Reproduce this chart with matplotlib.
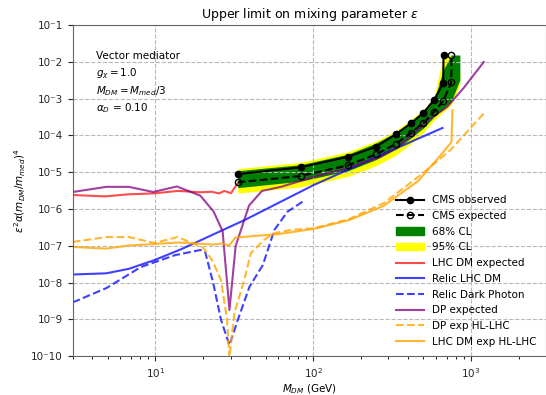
import matplotlib
matplotlib.use("Agg")
import matplotlib.pyplot as plt
from matplotlib.lines import Line2D
from matplotlib.patches import Patch

# CMS limits (M_DM = M_med / 3)
cms_obs_mass = [33.3, 83.3, 166.7, 250.0, 333.3, 416.7, 500.0, 583.3, 666.7, 670.0]
cms_obs = [8.9e-6, 1.36e-5, 2.64e-5, 4.93e-5, 1.07e-4, 2.13e-4, 4.14e-4, 9.2e-4, 2.6e-3, 1.53e-2]
cms_exp_mass = [33.3, 83.3, 166.7, 250.0, 333.3, 416.7, 500.0, 583.3, 666.7, 750.0, 752.0]
cms_exp = [5.3e-6, 7.9e-6, 1.54e-5, 3.06e-5, 5.83e-5, 1.18e-4, 2.21e-4, 4.4e-4, 8.6e-4, 2.77e-3, 1.53e-2]

band_mass = [33.3, 83.3, 166.7, 250.0, 333.3, 416.7, 500.0, 583.3, 666.7, 750.0, 850.0]
band68_lo = [3.8e-6, 5.7e-6, 1.1e-5, 2.2e-5, 4.2e-5, 8.5e-5, 1.6e-4, 3.2e-4, 5.2e-4, 8.5e-4, 3.2e-3]
band68_hi = [1.1e-5, 1.6e-5, 3.1e-5, 6.2e-5, 1.2e-4, 2.4e-4, 4.5e-4, 9.0e-4, 6.0e-3, 1.53e-2, 1.53e-2]
band95_lo = [2.7e-6, 4.0e-6, 7.7e-6, 1.5e-5, 2.9e-5, 6.0e-5, 1.2e-4, 2.6e-4, 4.3e-4, 6.8e-4, 2.4e-3]
band95_hi = [1.25e-5, 1.85e-5, 3.6e-5, 7.0e-5, 1.35e-4, 2.7e-4, 5.1e-4, 1.1e-3, 1.53e-2, 1.53e-2, 5.0e-3]

# LHC DM expected
lhc_mass = [3.0, 4.8, 6.7, 9.7, 13.9, 19.5, 22.6, 25.4, 27.3, 30.2, 31.7, 33.3]
lhc_exp = [2.4e-6, 2.2e-6, 2.5e-6, 2.65e-6, 3.1e-6, 2.85e-6, 2.95e-6, 2.65e-6, 3.1e-6, 2.7e-6, 3.7e-6, 5.0e-6]

# Relic LHC DM
relic_mass = [3.0, 4.9, 6.8, 9.9, 14.7, 37.1, 101.0, 267.0, 659.0]
relic = [1.66e-8, 1.79e-8, 2.37e-8, 4.1e-8, 8.2e-8, 5.1e-7, 4.5e-6, 2.9e-5, 1.59e-4]

# Relic dark photon
rdp_mass = [3.0, 4.9, 8.1, 13.4, 19.3, 20.7, 23.3, 26.1, 29.5, 33.3, 39.5, 48.0, 56.8, 68.9, 85.7]
rdp = [2.9e-9, 7.1e-9, 2.65e-8, 5.6e-8, 7.7e-8, 6.8e-8, 9.6e-9, 9.6e-10, 2.0e-10, 9.6e-10,
       7.7e-9, 3.0e-8, 2.7e-7, 8.5e-7, 1.58e-6]

# DP expected
dp_mass = [3.0, 4.9, 6.8, 9.7, 13.7, 19.3, 23.4, 26.7, 29.5, 32.3, 39.3, 47.4, 62.5, 101.0,
           165.0, 267.0, 341.0, 434.0, 553.0, 705.0, 898.0, 1205.0]
dp_exp = [2.9e-6, 4.0e-6, 4.0e-6, 2.9e-6, 4.1e-6, 2.3e-6, 8.6e-7, 2.5e-7, 1.8e-9, 9.9e-8,
          1.25e-6, 3.1e-6, 4.0e-6, 7.5e-6, 1.28e-5, 2.64e-5, 4.9e-5, 1.14e-4, 2.9e-4, 5.9e-4,
          1.94e-3, 9.9e-3]

# DP exp HL-LHC
dphl_mass = [3.0, 4.9, 6.8, 9.9, 13.8, 17.2, 20.2, 22.9, 26.1, 28.5, 29.5, 31.7, 36.6, 40.4,
             48.9, 56.5, 72.4, 101.0, 169.0, 281.0, 479.0, 741.0, 1214.0]
dphl = [1.27e-7, 1.73e-7, 1.73e-7, 1.19e-7, 1.73e-7, 1.19e-7, 8.7e-8, 4.1e-8, 1.18e-8, 9.6e-10,
        9.0e-11, 1.5e-9, 1.18e-8, 6.4e-8, 1.44e-7, 2.2e-7, 2.7e-7, 3.0e-7, 5.3e-7, 1.46e-6,
        8.4e-6, 4.0e-5, 4.1e-4]

# LHC DM exp HL-LHC
lhchl_mass = [3.0, 4.9, 6.8, 9.9, 14.1, 23.4, 26.5, 29.4, 32.2, 61.2, 101.6, 169.0, 279.0,
              463.0, 659.0, 752.0, 763.0]
lhchl = [9.3e-8, 8.4e-8, 1.02e-7, 1.12e-7, 1.23e-7, 1.08e-7, 1.16e-7, 1.02e-7, 1.68e-7, 2.1e-7,
         2.9e-7, 5.0e-7, 1.21e-6, 5.8e-6, 3.3e-5, 6.6e-5, 4.9e-4]

ytick_vals = [1e-1, 1e-2, 1e-3, 1e-4, 1e-5, 1e-6, 1e-7, 1e-8, 1e-9, 1e-10]
ytick_labels = ["10\u207b1", "10\u207b2", "10\u207b3", "10\u207b4", "10\u207b5",
                "10\u207b6", "10\u207b7", "10\u207b8", "10\u207b9", "10\u207b10"]

fs = 7.5
fig = plt.figure(figsize=(5.46, 3.95), dpi=100)
ax = fig.add_axes([0.1332, 0.0982, 0.8674, 0.8385])

ax.fill_between(band_mass, band95_lo, band95_hi, color="yellow", lw=0)
ax.fill_between(band_mass, band68_lo, band68_hi, color="green", lw=0)

ax.plot(lhc_mass, lhc_exp, color="red", alpha=0.7, lw=1.5)
ax.plot(relic_mass, relic, color="blue", alpha=0.75, lw=1.5)
ax.plot(rdp_mass, rdp, color="blue", alpha=0.75, lw=1.5, ls="--")
ax.plot(dp_mass, dp_exp, color="purple", alpha=0.75, lw=1.5)
ax.plot(dphl_mass, dphl, color="orange", alpha=0.8, lw=1.5, ls="--")
ax.plot(lhchl_mass, lhchl, color="orange", alpha=0.8, lw=1.5)

ax.plot(cms_obs_mass, cms_obs, color="black", lw=1.5, marker="o", ms=4.5)
ax.plot(cms_exp_mass, cms_exp, color="black", lw=1.5, ls="--", marker="o", ms=4.5, mfc="none")

ax.set_xscale("log")
ax.set_yscale("log")
ax.set_xlim(3, 3000)
ax.set_ylim(1e-10, 1e-1)
ax.set_yticks(ytick_vals)
ax.set_yticklabels(ytick_labels)
ax.tick_params(labelsize=fs, colors="0.15")
ax.grid(True, which="major", ls="--", color="0.72", lw=0.8)
for s in ax.spines.values():
    s.set_color("0.4")

ax.set_title("Upper limit on mixing parameter $\\epsilon$", fontsize=9, pad=5)
ax.set_xlabel("$M_{DM}$ (GeV)", fontsize=fs, labelpad=2)
ax.set_ylabel("$\\epsilon^2\\alpha(m_{DM}/m_{med})^4$", fontsize=fs, labelpad=2)

info = ["Vector mediator", "$g_\\chi = 1.0$", "$M_{DM} = M_{med}/3$", "$\\alpha_D$ = 0.10"]
for i, t in enumerate(info):
    ax.text(0.05, 0.907 - i * 0.053, t, transform=ax.transAxes, fontsize=fs, va="center")

handles = [
    Line2D([], [], color="black", lw=1.5, marker="o", ms=4.5),
    Line2D([], [], color="black", lw=1.5, ls="--", marker="o", ms=4.5, mfc="none"),
    Patch(color="green"),
    Patch(color="yellow"),
    Line2D([], [], color="red", alpha=0.7, lw=1.5),
    Line2D([], [], color="blue", alpha=0.75, lw=1.5),
    Line2D([], [], color="blue", alpha=0.75, lw=1.5, ls="--"),
    Line2D([], [], color="purple", alpha=0.75, lw=1.5),
    Line2D([], [], color="orange", alpha=0.8, lw=1.5, ls="--"),
    Line2D([], [], color="orange", alpha=0.8, lw=1.5),
]
labels = ["CMS observed", "CMS expected", "68% CL", "95% CL", "LHC DM expected",
          "Relic LHC DM", "Relic Dark Photon", "DP expected", "DP exp HL-LHC",
          "LHC DM exp HL-LHC"]
ax.legend(handles, labels, loc="lower right", fontsize=fs, frameon=False,
          handlelength=2.7, labelspacing=0.55)

fig.savefig("out.png", dpi=100)
